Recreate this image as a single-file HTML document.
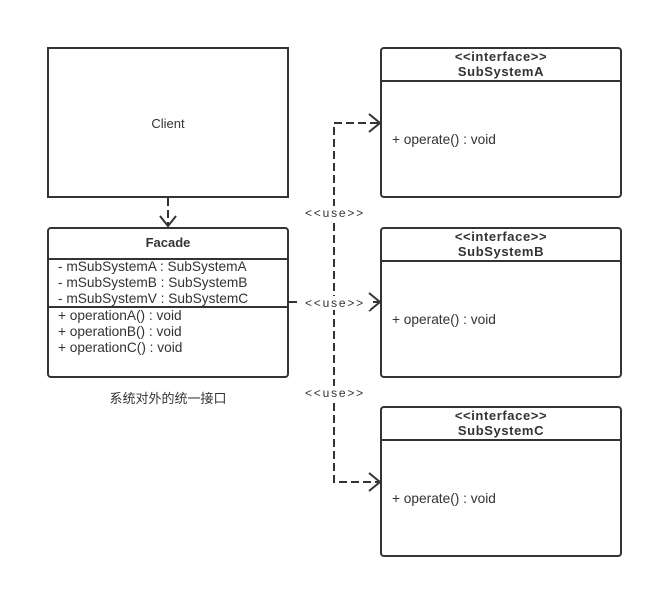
<!DOCTYPE html>
<html><head><meta charset="utf-8"><style>body{margin:0;background:#fff}svg{display:block}text{font-family:"Liberation Sans","Noto Sans CJK SC",sans-serif;fill:#333}</style></head><body>
<svg width="653" height="589" viewBox="0 0 653 589" xmlns="http://www.w3.org/2000/svg">
<g fill="none" stroke="#333" stroke-width="2">
<rect x="48" y="48" width="240" height="149"/>
<rect x="48" y="228" width="240" height="149" rx="3"/>
<line x1="48" y1="259" x2="288" y2="259"/>
<line x1="48" y1="307" x2="288" y2="307"/>
<rect x="381" y="48" width="240" height="149" rx="3"/>
<line x1="381" y1="81" x2="621" y2="81"/>
<rect x="381" y="228" width="240" height="149" rx="3"/>
<line x1="381" y1="261" x2="621" y2="261"/>
<rect x="381" y="407" width="240" height="149" rx="3"/>
<line x1="381" y1="440" x2="621" y2="440"/>
<g stroke-dasharray="8,4">
<line x1="168" y1="198" x2="168" y2="226"/>
<line x1="289" y1="302" x2="378" y2="302"/>
<polyline points="378,123 334,123 334,482 378,482"/>
</g>
<polyline points="160,216 168,226 176,216"/>
<polyline points="369,114 380,123 369,132"/>
<polyline points="369,293 380,302 369,311"/>
<polyline points="369,473 380,482 369,491"/>
</g>
<g fill="#fff">
<rect x="302" y="206" width="66" height="14"/>
<rect x="300" y="296" width="70" height="14"/>
<rect x="302" y="386" width="66" height="14"/>
</g>
<g font-size="12" text-anchor="middle" letter-spacing="1.8">
<text x="335" y="217">&lt;&lt;use&gt;&gt;</text>
<text x="335" y="307">&lt;&lt;use&gt;&gt;</text>
<text x="335" y="397">&lt;&lt;use&gt;&gt;</text>
</g>
<g font-size="13" text-anchor="middle">
<text x="168" y="128">Client</text>
<text x="168" y="247" font-weight="bold">Facade</text>
<text x="168" y="403">系统对外的统一接口</text>
<g font-weight="bold" letter-spacing="0.6">
<text x="501" y="61">&lt;&lt;interface&gt;&gt;</text>
<text x="501" y="76">SubSystemA</text>
<text x="501" y="241">&lt;&lt;interface&gt;&gt;</text>
<text x="501" y="256">SubSystemB</text>
<text x="501" y="420">&lt;&lt;interface&gt;&gt;</text>
<text x="501" y="435">SubSystemC</text>
</g>
</g>
<g font-size="13.7">
<text x="58" y="271">- mSubSystemA : SubSystemA</text>
<text x="58" y="287">- mSubSystemB : SubSystemB</text>
<text x="58" y="303">- mSubSystemV : SubSystemC</text>
<text x="58" y="320">+ operationA() : void</text>
<text x="58" y="336">+ operationB() : void</text>
<text x="58" y="352">+ operationC() : void</text>
<text x="392" y="144">+ operate() : void</text>
<text x="392" y="324">+ operate() : void</text>
<text x="392" y="503">+ operate() : void</text>
</g>
</svg>
</body></html>
